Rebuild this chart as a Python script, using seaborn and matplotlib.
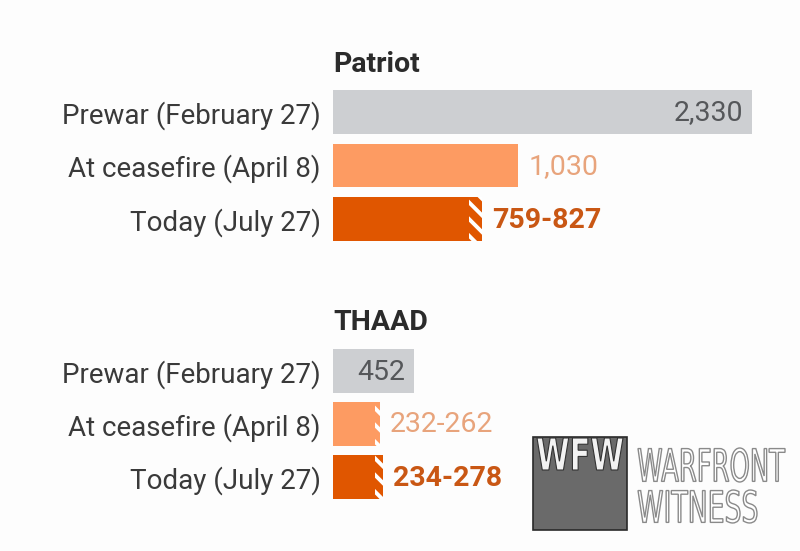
import matplotlib
matplotlib.use("Agg")
import matplotlib.pyplot as plt
from matplotlib.patches import Rectangle, PathPatch
from matplotlib.textpath import TextPath
from matplotlib.font_manager import FontProperties
from matplotlib.transforms import Affine2D
import pandas as pd
import seaborn as sns

# data
periods = ["Prewar (February 27)", "At ceasefire (April 8)", "Today (July 27)"]
patriot_low = [2330, 1030, 759]
patriot_high = [2330, 1030, 827]
thaad_low = [452, 232, 234]
thaad_high = [452, 262, 278]

bar_colors = ["#cdcfd2", "#fd9b62", "#e05600"]
text_colors = ["#55575a", "#e8a47c", "#c95714"]

sns.set_theme(style="white")
plt.rcParams["font.family"] = ["Roboto", "DejaVu Sans"]
plt.rcParams["hatch.linewidth"] = 2.8
plt.rcParams["hatch.color"] = "white"

W, H = 800, 551
fig = plt.figure(figsize=(8, 5.51), dpi=100)
fig.patch.set_facecolor("#fdfdfd")

XMAX = 467 / (419 / 2330)


def label_text(lo, hi):
    if lo == hi:
        return f"{lo:,}"
    return f"{lo}-{hi}"


def draw_group(rect, title, low, high, title_off):
    ax = fig.add_axes(rect)
    ax.set_facecolor("none")
    df = pd.DataFrame({"period": periods, "low": low, "high": high})
    sns.barplot(data=df, y="period", x="low", hue="period", palette=bar_colors,
                width=0.82, saturation=1, legend=False, ax=ax, linewidth=0)
    for i, (lo, hi) in enumerate(zip(low, high)):
        if hi > lo:
            ax.barh(i, hi - lo, left=lo, height=0.82, color=bar_colors[i],
                    hatch="\\\\", edgecolor="white", linewidth=0)
        if i == 0:
            ax.annotate(label_text(lo, hi), (hi, i), xytext=(-9, -1),
                        textcoords="offset pixels", ha="right", va="center",
                        fontsize=20.5, color=text_colors[i])
        else:
            ax.annotate(label_text(lo, hi), (hi, i), xytext=(10, -1),
                        textcoords="offset pixels", ha="left", va="center",
                        fontsize=20.5, color=text_colors[i],
                        fontweight="bold" if i == 2 else "normal")
    ax.set_xlim(0, XMAX)
    ax.set_ylim(2.5, -0.5)
    ax.set_xlabel("")
    ax.set_ylabel("")
    ax.set_xticks([])
    ax.tick_params(axis="y", length=0, pad=9, labelsize=20, labelcolor="#3a3a3a")
    sns.despine(ax=ax, left=True, bottom=True)
    ax.annotate(title, (0, -0.5), xytext=(0, title_off), textcoords="offset pixels",
                ha="left", va="baseline", fontsize=20.5, fontweight="bold",
                color="#2b2b2b")
    return ax


draw_group([333 / W, (H - 245.75) / H, 467 / W, 160.5 / H],
           "Patriot", patriot_low, patriot_high, 13)
draw_group([333 / W, (H - 503.5) / H, 467 / W, 159 / H],
           "THAAD", thaad_low, thaad_high, 15)

# watermark logo
fig.patches.append(Rectangle((533 / W, (H - 530) / H), 94 / W, 93 / H,
                             transform=fig.transFigure, facecolor="#6a6a6a",
                             edgecolor="#2a2a2a", linewidth=1.2, zorder=1))


def stretched_text(s, x0, y_top, width, height, face, edge, lw, weight="normal"):
    tp = TextPath((0, 0), s, size=1,
                  prop=FontProperties(family="Liberation Sans Narrow", weight=weight))
    ext = tp.get_extents()
    sx = width / ext.width
    sy = height / ext.height
    tr = Affine2D().translate(-ext.x0, -ext.y0).scale(sx, sy).translate(x0, H - y_top - height)
    patch = PathPatch(tr.transform_path(tp), facecolor=face, edgecolor=edge,
                      linewidth=lw, transform=None, zorder=5)
    fig.add_artist(patch)


stretched_text("WFW", 537, 438, 86, 32, "#f2f2f2", "#333333", 0.8, weight="bold")
stretched_text("WARFRONT", 638, 448, 147, 34, "white", "#8a8a8a", 1.0)
stretched_text("WITNESS", 638, 490, 119, 33, "white", "#8a8a8a", 1.0)

fig.savefig("out.png", dpi=100, facecolor=fig.get_facecolor())
